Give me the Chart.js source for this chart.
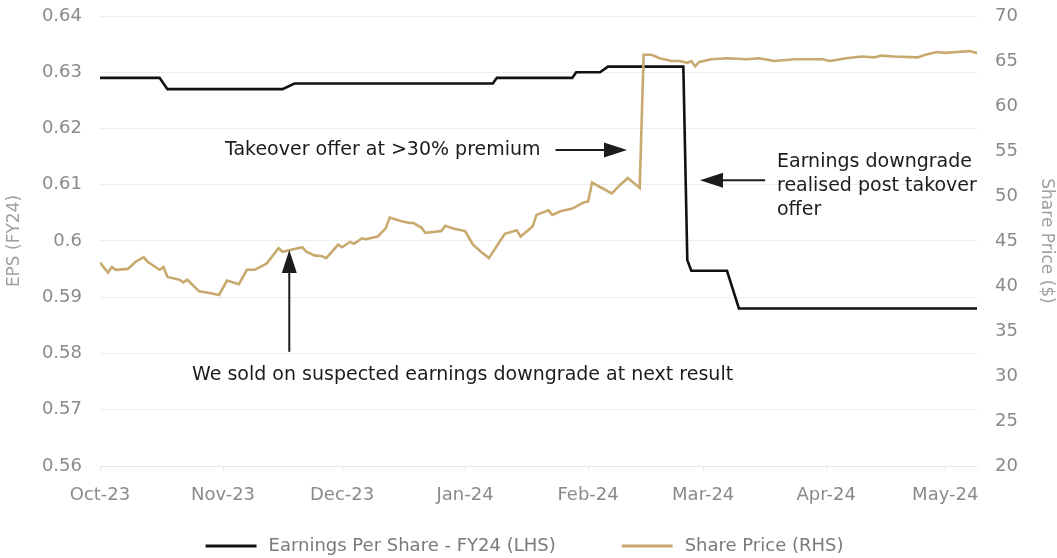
<!DOCTYPE html>
<html>
<head>
<meta charset="utf-8">
<script src="https://cdn.jsdelivr.net/npm/chart.js@4.4.1/dist/chart.umd.min.js"></script>
<style>
  html, body { margin: 0; padding: 0; background: #fff; }
  #wrap { width: 1057px; height: 558px; }
</style>
</head>
<body>
<div id="wrap"><canvas id="epsChart"></canvas></div>
<script>
// month ticks along the bottom
var monthStarts = ['2023-10-01', '2023-11-01', '2023-12-01', '2024-01-01', '2024-02-01', '2024-03-01', '2024-04-01', '2024-05-01'];
var monthLabels = ['Oct-23', 'Nov-23', 'Dec-23', 'Jan-24', 'Feb-24', 'Mar-24', 'Apr-24', 'May-24'];

// EPS (FY24) consensus, left axis
var epsDates = ['2023-10-01', '2023-10-16', '2023-10-18', '2023-11-16', '2023-11-19', '2024-01-08', '2024-01-09',
  '2024-01-28', '2024-01-29', '2024-02-04', '2024-02-06', '2024-02-25', '2024-02-26', '2024-02-27',
  '2024-03-07', '2024-03-10', '2024-05-09'];
var epsValues = [0.629, 0.629, 0.627, 0.627, 0.628, 0.628, 0.629,
  0.629, 0.630, 0.630, 0.631, 0.631, 0.5966, 0.5947,
  0.5947, 0.588, 0.588];

// share price, right axis
var priceDates = ['2023-10-01', '2023-10-03', '2023-10-04', '2023-10-05', '2023-10-08', '2023-10-10', '2023-10-12',
  '2023-10-13', '2023-10-16', '2023-10-17', '2023-10-18', '2023-10-21', '2023-10-22', '2023-10-23', '2023-10-26',
  '2023-10-29', '2023-10-31', '2023-11-02', '2023-11-05', '2023-11-07', '2023-11-09', '2023-11-12', '2023-11-15',
  '2023-11-16', '2023-11-19', '2023-11-21', '2023-11-22', '2023-11-24', '2023-11-26', '2023-11-27', '2023-11-30',
  '2023-12-01', '2023-12-03', '2023-12-04', '2023-12-06', '2023-12-07', '2023-12-10', '2023-12-12', '2023-12-13',
  '2023-12-16', '2023-12-18', '2023-12-19', '2023-12-21', '2023-12-22', '2023-12-26', '2023-12-27', '2023-12-29',
  '2024-01-01', '2024-01-03', '2024-01-05', '2024-01-07', '2024-01-11', '2024-01-14', '2024-01-15', '2024-01-18',
  '2024-01-19', '2024-01-22', '2024-01-23', '2024-01-25', '2024-01-28', '2024-01-31', '2024-02-01', '2024-02-02',
  '2024-02-04', '2024-02-07', '2024-02-09', '2024-02-11', '2024-02-14', '2024-02-15', '2024-02-17', '2024-02-19',
  '2024-02-22', '2024-02-24', '2024-02-26', '2024-02-27', '2024-02-28', '2024-02-29', '2024-03-03', '2024-03-07',
  '2024-03-12', '2024-03-15', '2024-03-19', '2024-03-24', '2024-03-31', '2024-04-02', '2024-04-06', '2024-04-10',
  '2024-04-13', '2024-04-15', '2024-04-18', '2024-04-24', '2024-04-26', '2024-04-29', '2024-05-01', '2024-05-04',
  '2024-05-07', '2024-05-09'];
var priceValues = [42.6, 41.5, 42.1, 41.8, 41.9, 42.7, 43.2,
  42.7, 41.8, 42.1, 41.0, 40.7, 40.4, 40.7, 39.4,
  39.2, 39.0, 40.6, 40.2, 41.8, 41.8, 42.5, 44.2,
  43.8, 44.1, 44.3, 43.8, 43.4, 43.3, 43.1, 44.6,
  44.3, 44.9, 44.7, 45.3, 45.2, 45.5, 46.4, 47.6,
  47.2, 47.0, 47.0, 46.5, 45.9, 46.1, 46.7, 46.4,
  46.1, 44.6, 43.8, 43.1, 45.8, 46.2, 45.5, 46.6,
  47.9, 48.4, 47.9, 48.3, 48.6, 49.3, 49.4, 51.5,
  51.0, 50.3, 51.2, 52.0, 50.9, 65.7, 65.7, 65.3,
  65.0, 65.0, 64.8, 65.0, 64.4, 64.9, 65.2, 65.3,
  65.2, 65.3, 65.0, 65.2, 65.2, 65.0, 65.3, 65.5,
  65.4, 65.6, 65.5, 65.4, 65.7, 66.0, 65.9, 66.0,
  66.1, 65.9];

var startDay = Date.parse('2023-10-01');
function dayIndex(s) {
  return Math.round((Date.parse(s) - startDay) / 86400000);
}
function toPoints(dates, values) {
  return dates.map(function (d, i) { return { x: dayIndex(d), y: values[i] }; });
}
var monthDays = monthStarts.map(dayIndex);

var FONT = '"DejaVu Sans", sans-serif';

// callouts, placed in data units (x in days, y on the EPS axis)
var notes = [
  { lines: ['Takeover offer at >30% premium'], x: 31.5, y: 0.6162 },
  { lines: ['Earnings downgrade', 'realised post takover', 'offer'], x: 170.6, y: 0.6140 },
  { lines: ['We sold on suspected earnings downgrade at next result'], x: 23.2, y: 0.5762 }
];
var arrows = [
  { from: [114.8, 0.6162], to: [132.8, 0.6162] },
  { from: [167.6, 0.6108], to: [151.2, 0.6108] },
  { from: [47.7, 0.5803], to: [47.7, 0.5984] }
];

var calloutPlugin = {
  id: 'callouts',
  afterDatasetsDraw: function (chart) {
    var ctx = chart.ctx, xs = chart.scales.x, ys = chart.scales.y;
    ctx.save();
    ctx.fillStyle = '#1c1c1c';
    ctx.strokeStyle = '#1c1c1c';
    ctx.font = '19px ' + FONT;
    ctx.textBaseline = 'middle';
    ctx.textAlign = 'left';
    notes.forEach(function (n) {
      var px = xs.getPixelForValue(n.x), py = ys.getPixelForValue(n.y);
      n.lines.forEach(function (line, i) { ctx.fillText(line, px, py + i * 24); });
    });
    arrows.forEach(function (a) {
      var x0 = xs.getPixelForValue(a.from[0]), y0 = ys.getPixelForValue(a.from[1]);
      var x1 = xs.getPixelForValue(a.to[0]), y1 = ys.getPixelForValue(a.to[1]);
      var ang = Math.atan2(y1 - y0, x1 - x0), head = 23, half = 7.5;
      var bx = x1 - head * Math.cos(ang), by = y1 - head * Math.sin(ang);
      ctx.lineWidth = 2;
      ctx.beginPath();
      ctx.moveTo(x0, y0);
      ctx.lineTo(bx, by);
      ctx.stroke();
      ctx.beginPath();
      ctx.moveTo(x1, y1);
      ctx.lineTo(bx + half * Math.sin(ang), by - half * Math.cos(ang));
      ctx.lineTo(bx - half * Math.sin(ang), by + half * Math.cos(ang));
      ctx.closePath();
      ctx.fill();
    });
    ctx.restore();
  }
};

// line-sample legend under the x axis
var legendPlugin = {
  id: 'lineLegend',
  afterDraw: function (chart) {
    var ctx = chart.ctx;
    var sample = 51, textGap = 12, itemGap = 66;
    ctx.save();
    ctx.font = '18px ' + FONT;
    var items = chart.data.datasets.map(function (ds) {
      return { label: ds.label, color: ds.borderColor, w: ctx.measureText(ds.label).width };
    });
    var total = items.reduce(function (s, it) { return s + sample + textGap + it.w; }, 0) + itemGap * (items.length - 1);
    var x = (chart.width - total) / 2 - 4, y = chart.height - 12;
    ctx.textBaseline = 'middle';
    items.forEach(function (it) {
      ctx.fillStyle = it.color;
      ctx.fillRect(x, y - 1.5, sample, 3);
      ctx.fillStyle = '#7a7a7a';
      ctx.fillText(it.label, x + sample + textGap, y);
      x += sample + textGap + it.w + itemGap;
    });
    ctx.restore();
  }
};

// keep the value axes from reserving extra room above/below the plot
function trimVertical(scale, width) {
  scale.width = width;
  scale.paddingTop = 0;
  scale.paddingBottom = 0;
}

var ctx = document.getElementById('epsChart').getContext('2d');
var epsChart = new Chart(ctx, {
  type: 'line',
  data: {
    datasets: [{
      label: 'Earnings Per Share - FY24 (LHS)',
      data: toPoints(epsDates, epsValues),
      yAxisID: 'y',
      borderColor: '#111111',
      backgroundColor: '#111111',
      borderWidth: 2.6,
      pointRadius: 0,
      tension: 0,
      order: 1
    }, {
      label: 'Share Price (RHS)',
      data: toPoints(priceDates, priceValues),
      yAxisID: 'y1',
      borderColor: '#c8a96e',
      backgroundColor: '#c8a96e',
      borderWidth: 2.6,
      pointRadius: 0,
      tension: 0,
      order: 0
    }]
  },
  options: {
    responsive: true,
    maintainAspectRatio: false,
    animation: false,
    layout: { padding: { top: 16, bottom: 50, left: 0, right: 0 } },
    plugins: {
      legend: { display: false },
      tooltip: { enabled: false }
    },
    scales: {
      x: {
        type: 'linear',
        min: 0,
        max: 221,
        afterBuildTicks: function (scale) {
          scale.ticks = monthDays.map(function (v) { return { value: v }; });
        },
        afterFit: function (scale) { scale.height = 42; },
        ticks: {
          autoSkip: false,
          maxRotation: 0,
          padding: 14,
          color: '#8a8a8a',
          font: { family: FONT, size: 18 },
          callback: function (value, index) { return monthLabels[index]; }
        },
        grid: { drawOnChartArea: false, drawTicks: true, tickLength: 5, color: '#e4e4e4' },
        border: { color: '#e8e8e8' }
      },
      y: {
        position: 'left',
        min: 0.56,
        max: 0.64,
        afterFit: function (scale) { trimVertical(scale, 100); },
        ticks: {
          stepSize: 0.01,
          padding: 18,
          color: '#8a8a8a',
          font: { family: FONT, size: 18 },
          callback: function (v) { return String(parseFloat(v.toFixed(2))); }
        },
        grid: { color: '#ededed', drawTicks: false },
        border: { display: false },
        title: {
          display: true,
          text: 'EPS (FY24)',
          color: '#a0a0a0',
          font: { family: FONT, size: 17 },
          padding: { top: 4, bottom: 0 }
        }
      },
      y1: {
        position: 'right',
        min: 20,
        max: 70,
        afterFit: function (scale) { trimVertical(scale, 80); },
        ticks: {
          stepSize: 5,
          padding: 18,
          color: '#8a8a8a',
          font: { family: FONT, size: 18 }
        },
        grid: { display: false, drawTicks: false },
        border: { display: false },
        title: {
          display: true,
          text: 'Share Price ($)',
          color: '#a0a0a0',
          font: { family: FONT, size: 17 },
          padding: { top: 0, bottom: 0 }
        }
      }
    }
  },
  plugins: [calloutPlugin, legendPlugin]
});
</script>
</body>
</html>
